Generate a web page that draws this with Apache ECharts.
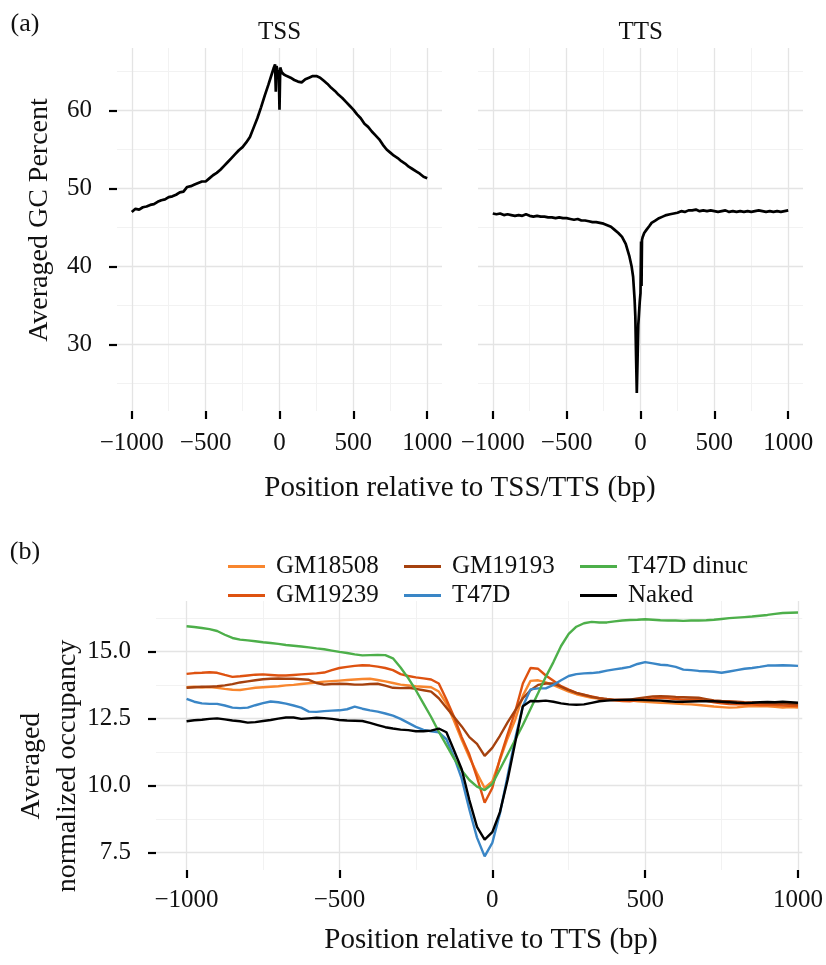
<!DOCTYPE html>
<html>
<head>
<meta charset="utf-8">
<script src="https://cdn.jsdelivr.net/npm/echarts@6/dist/echarts.min.js"></script>
<style>html,body{margin:0;padding:0;background:#fff}#c{width:826px;height:965px}</style>
</head>
<body>
<div id="c"></div>
<script>
// ---------- Panel (a): GC percent ----------
const tssPos = [-1000,-975,-950,-925,-900,-875,-850,-825,-800,-775,-750,-725,-700,-675,-650,-625,-600,-575,-550,-525,-500,-475,-450,-425,-400,-375,-350,-325,-300,-275,-250,-225,-200,-175,-150,-125,-100,-75,-50,-40,-30,-25,-20,-15,-10,-5,0,5,10,15,20,30,40,50,75,100,125,150,175,200,225,250,275,300,325,350,375,400,425,450,475,500,525,550,575,600,625,650,675,700,725,750,775,800,825,850,875,900,925,950,975,1000];
const tssGC = [47.0,47.4,47.3,47.6,47.7,47.9,48.0,48.3,48.5,48.6,
  48.9,49.0,49.2,49.5,49.6,50.2,50.3,50.5,50.7,50.9,
  50.9,51.3,51.7,52.0,52.4,52.9,53.4,53.9,54.4,54.9,
  55.3,55.9,56.6,57.8,59.0,60.4,61.9,63.3,64.8,
  65.4,65.9,62.4,65.7,65.2,65.0,64.9,60.1,65.5,65.3,64.9,65.0,64.6,64.5,64.4,
  64.2,63.9,63.7,63.6,64.0,64.2,64.4,64.4,64.2,63.8,
  63.4,62.9,62.5,62.0,61.6,61.1,60.6,60.1,59.5,59.0,
  58.3,57.9,57.3,56.8,56.3,55.6,55.0,54.6,54.2,53.9,
  53.5,53.2,52.8,52.5,52.2,51.9,51.5,51.3];
const ttsPos = [-1000,-975,-950,-925,-900,-875,-850,-825,-800,-775,-750,-725,-700,-675,-650,-625,-600,-575,-550,-525,-500,-475,-450,-425,-400,-375,-350,-325,-300,-275,-250,-225,-200,-175,-150,-125,-100,-75,-60,-50,-40,-35,-30,-25,-20,-15,-10,-5,0,4,7,10,15,25,40,60,75,100,125,150,175,200,225,250,275,300,325,350,375,400,425,450,475,500,525,550,575,600,625,650,675,700,725,750,775,800,825,850,875,900,925,950,975,1000];
const ttsGC = [46.8,46.7,46.8,46.6,46.7,46.6,46.5,46.6,46.5,46.7,
  46.5,46.4,46.5,46.4,46.4,46.3,46.3,46.2,46.3,46.2,
  46.2,46.1,46.0,46.1,45.9,45.9,45.8,45.7,45.7,45.6,
  45.5,45.3,45.1,44.7,44.3,43.8,42.9,41.3,
  40.0,38.7,35.8,33.6,28.5,23.8,28.0,32.5,34.0,35.5,36.6,43.2,37.5,43.4,43.8,44.3,44.7,45.2,
  45.6,45.9,46.2,46.4,46.6,46.7,46.8,46.9,47.1,47.0,
  47.2,47.2,47.3,47.1,47.2,47.1,47.2,47.1,47.0,47.1,
  47.2,47.0,47.1,47.0,47.1,47.0,47.1,47.0,47.1,47.2,
  47.1,47.0,47.1,47.0,47.1,47.0,47.1,47.2];
const gcTicks = [30,40,50,60];
const gcMinor = [25,35,45,55,65];

// ---------- Panel (b): occupancy ----------
const posB = [-1000,-975,-950,-925,-900,-875,-850,-825,-800,-775,
  -750,-725,-700,-675,-650,-625,-600,-575,-550,-525,
  -500,-475,-450,-425,-400,-375,-350,-325,-300,-275,
  -250,-225,-200,-175,-150,-125,-100,-75,-50,-25,
  0,25,50,75,100,125,150,175,200,225,
  250,275,300,325,350,375,400,425,450,475,
  500,525,550,575,600,625,650,675,700,725,
  750,775,800,825,850,875,900,925,950,975,
  1000];
const gm18508 = [13.66,13.68,13.65,13.67,13.64,13.60,13.57,13.56,13.60,13.64,
  13.66,13.68,13.70,13.73,13.75,13.78,13.81,13.84,13.87,13.89,
  13.91,13.93,13.95,13.97,13.98,13.93,13.88,13.82,13.76,13.73,
  13.70,13.68,13.66,13.50,13.05,12.40,11.70,11.05,10.45,9.90,
  10.15,10.95,11.75,12.45,13.35,13.90,13.92,13.84,13.74,13.62,
  13.50,13.40,13.33,13.27,13.24,13.20,13.18,13.17,13.17,13.14,
  13.12,13.10,13.08,13.07,13.05,13.03,13.02,13.00,12.97,12.94,
  12.92,12.90,12.91,12.94,12.96,12.95,12.95,12.93,12.90,12.92,
  12.90];
const gm19239 = [14.16,14.19,14.20,14.22,14.20,14.12,14.05,14.07,14.10,14.13,
  14.14,14.12,14.10,14.10,14.12,14.14,14.16,14.18,14.21,14.30,
  14.38,14.42,14.46,14.48,14.47,14.43,14.38,14.30,14.15,14.08,
  14.03,13.99,13.95,13.80,13.20,12.55,11.80,11.15,10.30,9.35,
  9.90,11.00,11.90,12.75,13.80,14.38,14.35,14.10,13.90,13.70,
  13.57,13.45,13.37,13.32,13.25,13.20,13.17,13.15,13.14,13.17,
  13.20,13.24,13.27,13.25,13.22,13.20,13.21,13.20,13.15,13.10,
  13.06,13.03,13.02,13.03,13.02,13.00,13.01,13.00,12.98,12.97,
  12.96];
const gm19193 = [13.64,13.66,13.68,13.68,13.70,13.73,13.78,13.84,13.88,13.92,
  13.96,13.98,13.99,13.98,13.98,13.96,13.94,13.82,13.76,13.78,
  13.79,13.78,13.76,13.76,13.78,13.79,13.72,13.64,13.63,13.64,
  13.60,13.55,13.50,13.25,12.90,12.55,12.20,11.80,11.55,11.10,
  11.40,11.85,12.35,12.80,13.25,13.55,13.75,13.80,13.80,13.68,
  13.55,13.45,13.38,13.30,13.25,13.22,13.20,13.20,13.20,13.24,
  13.28,13.32,13.33,13.32,13.30,13.29,13.28,13.27,13.22,13.17,
  13.15,13.14,13.12,13.10,13.09,13.08,13.07,13.06,13.05,13.04,
  13.02];
const t47d = [13.23,13.12,13.06,13.04,13.04,12.98,12.90,12.88,12.90,12.99,
  13.07,13.13,13.10,13.05,12.98,12.90,12.75,12.74,12.77,12.79,
  12.80,12.84,12.94,12.86,12.80,12.75,12.68,12.60,12.48,12.33,
  12.18,12.07,12.02,11.98,11.72,11.05,10.25,9.10,8.05,7.35,
  7.85,8.95,10.35,11.75,12.95,13.58,13.62,13.62,13.75,13.92,
  14.08,14.15,14.18,14.19,14.22,14.28,14.33,14.37,14.42,14.53,
  14.60,14.55,14.50,14.48,14.42,14.32,14.30,14.27,14.26,14.24,
  14.20,14.25,14.30,14.35,14.38,14.42,14.47,14.47,14.48,14.47,
  14.46];
const t47dDinuc = [15.94,15.91,15.87,15.83,15.76,15.62,15.50,15.44,15.41,15.38,
  15.34,15.31,15.28,15.24,15.21,15.18,15.15,15.11,15.08,15.03,
  14.98,14.94,14.89,14.85,14.86,14.87,14.86,14.74,14.40,14.00,
  13.55,13.05,12.55,12.00,11.50,11.00,10.55,10.20,9.95,9.82,
  10.05,10.60,11.15,11.70,12.25,12.85,13.45,14.05,14.60,15.20,
  15.65,15.92,16.05,16.10,16.08,16.08,16.12,16.15,16.17,16.18,
  16.20,16.18,16.16,16.15,16.15,16.14,16.15,16.15,16.16,16.18,
  16.21,16.24,16.26,16.28,16.30,16.33,16.36,16.40,16.43,16.44,
  16.45];
const naked = [12.39,12.43,12.45,12.48,12.50,12.46,12.42,12.39,12.34,12.36,
  12.40,12.44,12.49,12.53,12.53,12.48,12.50,12.52,12.51,12.48,
  12.44,12.42,12.41,12.40,12.33,12.25,12.17,12.12,12.08,12.06,
  12.02,12.02,12.04,12.12,11.98,11.30,10.60,9.45,8.45,7.97,
  8.25,9.00,10.20,11.60,12.95,13.15,13.14,13.16,13.12,13.06,
  13.02,13.01,13.02,13.08,13.14,13.16,13.18,13.19,13.20,13.19,
  13.18,13.17,13.16,13.14,13.12,13.12,13.13,13.14,13.14,13.14,
  13.12,13.10,13.08,13.07,13.08,13.10,13.11,13.10,13.12,13.10,
  13.08];
const occTicks = [7.5,10.0,12.5,15.0];
const occMinor = [8.75,11.25,13.75,16.25];
const xTicks = [-1000,-500,0,500,1000];
const xMinor = [-750,-250,250,750];

const seriesNames = ['GM18508','GM19239','GM19193','T47D','T47D dinuc','Naked'];
const seriesVals = [gm18508, gm19239, gm19193, t47d, t47dDinuc, naked];
const seriesColors = ['#F8862E','#DE5210','#A5410E','#3A86C6','#4DAF4A','#000000'];

const FONT = 'Liberation Serif';
const fmtX = v => v < 0 ? '\u2212' + Math.abs(v) : String(v);
const pair = (xs, ys) => xs.map((x, i) => [x, ys[i]]);

function gridLines(xIdx, yIdx, xs, xm, ys, ym) {
  const major = {color:'#e4e4e4', width:1.3, type:'solid'};
  const minor = {color:'#f2f2f2', width:1, type:'solid'};
  const d = [];
  xm.forEach(v => d.push({xAxis:v, lineStyle:minor}));
  ym.forEach(v => d.push({yAxis:v, lineStyle:minor}));
  xs.forEach(v => d.push({xAxis:v, lineStyle:major}));
  ys.forEach(v => d.push({yAxis:v, lineStyle:major}));
  return {type:'line', xAxisIndex:xIdx, yAxisIndex:yIdx, data:[], silent:true, z:0, zlevel:0,
    markLine:{silent:true, z:0, zlevel:0, symbol:['none','none'], label:{show:false}, animation:false, data:d}};
}

function xAxisCfg(gridIndex, min, max, margin) {
  return {type:'value', gridIndex, min, max, position:'bottom',
    axisLine:{show:false, onZero:false}, splitLine:{show:false},
    axisTick:{show:true, customValues:xTicks, length:8, lineStyle:{color:'#000', width:2.2}},
    axisLabel:{customValues:xTicks, formatter:fmtX, margin, fontFamily:FONT, fontSize:25, color:'#111'}};
}
function yAxisCfg(gridIndex, min, max, ticks, showLabels, fmt) {
  return {type:'value', gridIndex, min, max, position:'left',
    axisLine:{show:false, onZero:false}, splitLine:{show:false},
    axisTick:{show:showLabels, customValues:ticks, length:8, lineStyle:{color:'#000', width:2.2}},
    axisLabel:{show:showLabels, customValues:ticks, formatter:fmt, margin:25, fontFamily:FONT, fontSize:25, color:'#111'}};
}

const series = [
  gridLines(0,0,xTicks,xMinor,gcTicks,gcMinor),
  gridLines(1,1,xTicks,xMinor,gcTicks,gcMinor),
  gridLines(2,2,xTicks,xMinor,occTicks,occMinor),
  {type:'line', name:'TSS GC', xAxisIndex:0, yAxisIndex:0, data:pair(tssPos, tssGC), showSymbol:false, z:10, zlevel:1,
   lineStyle:{color:'#000', width:2.7}, itemStyle:{color:'#000'}},
  {type:'line', name:'TTS GC', xAxisIndex:1, yAxisIndex:1, data:pair(ttsPos, ttsGC), showSymbol:false, z:10, zlevel:1,
   lineStyle:{color:'#000', width:2.7}, itemStyle:{color:'#000'}}
];
seriesNames.forEach((n, i) => {
  series.push({type:'line', name:n, xAxisIndex:2, yAxisIndex:2, data:pair(posB, seriesVals[i]),
    showSymbol:false, z:10, zlevel:1, color:seriesColors[i],
    lineStyle:{color:seriesColors[i], width:2.4}, itemStyle:{color:seriesColors[i]}});
});

const legendPos = [[228,554],[228,583],[404,554],[404,583],[580,554],[580,583]];
const legends = seriesNames.map((n, i) => ({
  data:[n], left:legendPos[i][0], top:legendPos[i][1], icon:'rect', itemWidth:37, itemHeight:3,
  selectedMode:false, padding:0,
  textStyle:{fontFamily:FONT, fontSize:25, color:'#111', padding:[0,0,0,6]}
}));

const txt = (text, x, y, size, rot, lh) => ({type:'text', x, y, rotation:rot || 0,
  style:{text, fontFamily:FONT, fontSize:size, fill:'#111', align:'center', verticalAlign:'middle',
    textAlign:'center', textVerticalAlign:'middle', lineHeight:lh || size*1.2}});

const option = {
  animation:false,
  backgroundColor:'#fff',
  grid:[
    {left:117, top:48, width:325, height:363},
    {left:478, top:48, width:325, height:363},
    {left:156, top:601, width:649, height:269}
  ],
  xAxis:[xAxisCfg(0,-1100,1100,20), xAxisCfg(1,-1100,1100,20), xAxisCfg(2,-1100,1014,18)],
  yAxis:[
    yAxisCfg(0,21.5,68,gcTicks,true,v=>String(v)),
    yAxisCfg(1,21.5,68,gcTicks,false,v=>String(v)),
    yAxisCfg(2,6.84,16.88,occTicks,true,v=>v.toFixed(1))
  ],
  legend:legends,
  series,
  graphic:[
    txt('(a)', 25, 24, 26),
    txt('(b)', 25, 552, 26),
    txt('TSS', 279.5, 32, 25),
    txt('TTS', 640.8, 32, 25),
    txt('Position relative to TSS/TTS (bp)', 460, 488, 29),
    txt('Averaged GC Percent', 40, 220, 28, Math.PI/2),
    txt('Position relative to TTS (bp)', 491, 940, 29),
    txt('Averaged\nnormalized occupancy', 50, 766, 28, Math.PI/2, 36)
  ]
};
const chart = echarts.init(document.getElementById('c'), null, {renderer:'canvas'});
chart.setOption(option);
</script>
</body>
</html>
